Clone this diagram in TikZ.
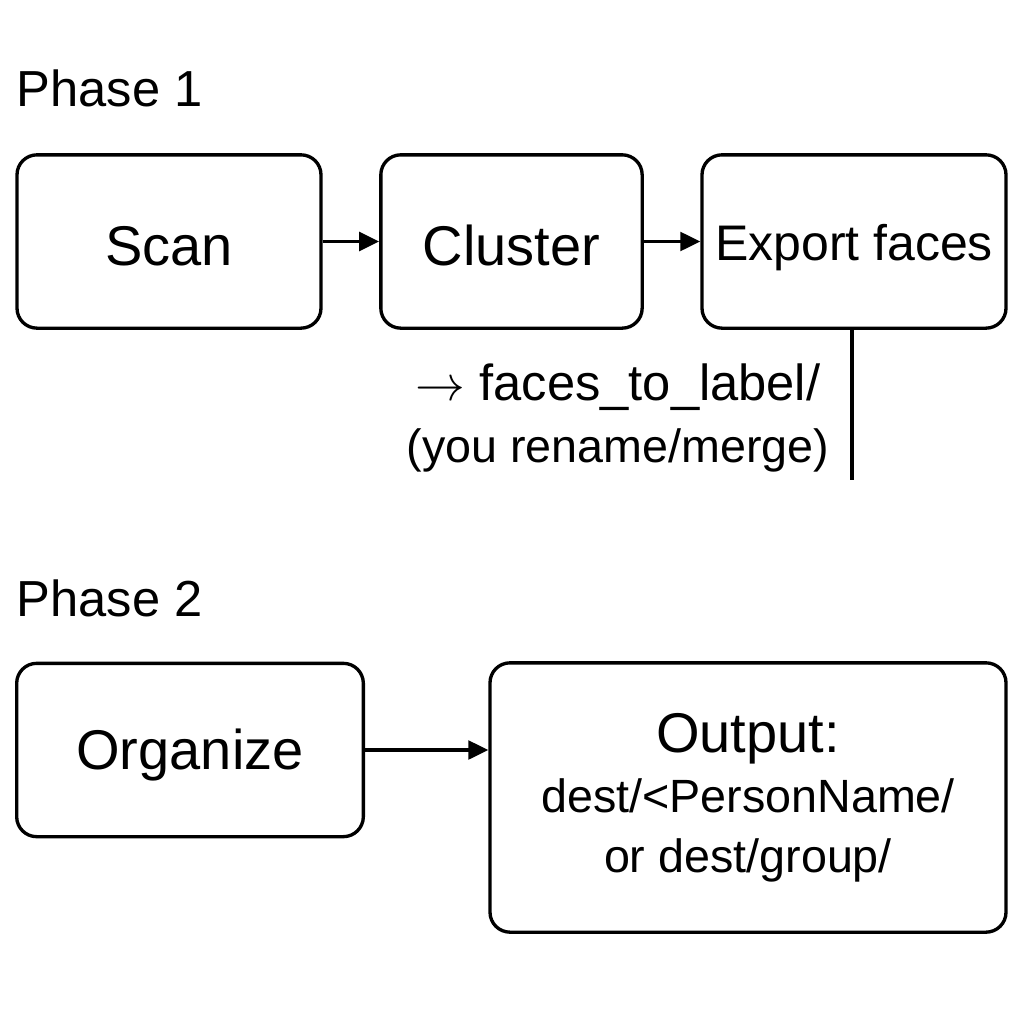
\documentclass[tikz,border=0pt]{standalone}
\usepackage{fontspec}
\usepackage{graphicx}
\setmainfont{Liberation Sans}
\usetikzlibrary{arrows.meta}
\tikzstyle{stepbox} = [draw,rounded corners=15pt,line width=2.5pt,align=center,inner sep=0pt]
\tikzstyle{flow} = [line width=2.5pt,-{Triangle[length=15pt,width=14pt]}]

\begin{document}
\begin{tikzpicture}[x=0.75pt,y=-0.75pt]
  \useasboundingbox (0,0) rectangle (1024,1024);
  % phase 1
  \node [anchor=west,font=\fontsize{38}{46}\selectfont] (p1) at (12,88) {Phase 1};
  \node [stepbox,minimum width=228pt,minimum height=130pt,text height=36pt,text depth=0pt,font=\fontsize{42}{50}\selectfont] (scan) at (169,241.5) {Scan};
  \node [stepbox,minimum width=196pt,minimum height=130pt,text height=36pt,text depth=0pt,font=\fontsize{42}{50}\selectfont] (cluster) at (511.5,241.5) {Cluster};
  \node [stepbox,minimum width=228pt,minimum height=130pt,text height=36pt,text depth=8pt,font=\fontsize{37.5}{45}\selectfont] (export) at (854,241.5) {Export faces};
  \draw [flow] (scan) -- (cluster);
  \draw [flow] (cluster) -- (export);
  \coordinate (tail) at (852,480);
  \draw [line width=2.5pt] (export.south -| tail) -- (tail);
  \node [align=center,font=\fontsize{35}{47}\selectfont] (note) at (618,418)
    {{\fontsize{38}{47}\selectfont\scalebox{1.5}{$\rightarrow$} faces\_to\_label/}\\(you rename/merge)};
  % phase 2
  \node [anchor=west,font=\fontsize{38}{46}\selectfont] (p2) at (12,598) {Phase 2};
  \node [stepbox,minimum width=260pt,minimum height=130pt,text height=38pt,text depth=9pt,font=\fontsize{42}{50}\selectfont] (organize) at (190,750) {Organize};
  \node [stepbox,minimum width=387pt,minimum height=202pt,font=\fontsize{35}{45}\selectfont] (output) at (748,797.5)
    {{\fontsize{42}{50}\selectfont Output:}\\
     dest/<PersonName/\\
     or dest/group/};
  \draw [flow] (organize.east) -- (organize.east -| output.west);
\end{tikzpicture}
\end{document}
